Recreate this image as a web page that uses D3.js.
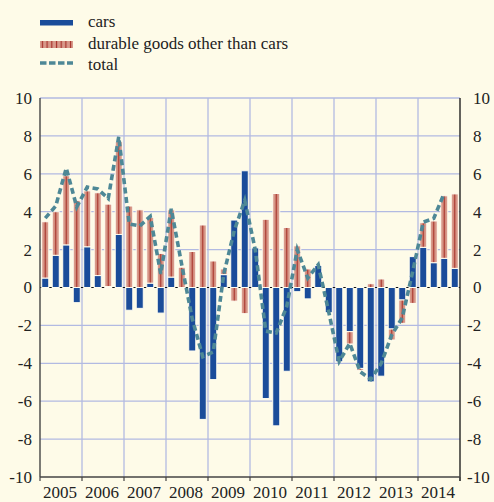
<!DOCTYPE html>
<html>
<head>
<meta charset="utf-8">
<script src="https://cdn.jsdelivr.net/npm/d3@7"></script>
<style>
  body { margin: 0; background: #fefbe8; }
  svg { display: block; }
  svg text { font-family: "Liberation Serif", "DejaVu Serif", "Times New Roman", serif; }
</style>
</head>
<body>
<svg id="chart"></svg>
<script>
var years = ["2005", "2006", "2007", "2008", "2009", "2010", "2011", "2012", "2013", "2014"];

// quarterly contributions, 2005Q1 .. 2014Q4
var cars = [
  0.5, 1.7, 2.25, -0.8,
  2.15, 0.63, 0.05, 2.8,
  -1.2, -1.1, 0.23, -1.35,
  0.55, 0.0, -3.35, -6.96,
  -4.86, 0.68, 3.56, 6.16,
  2.09, -5.86, -7.3, -4.42,
  -0.22, -0.6, 1.16, -1.33,
  -3.92, -2.33, -4.27, -4.98,
  -4.68, -2.19, -0.66, 1.63,
  2.12, 1.31, 1.54, 1.01
];
var otherDurables = [
  2.97, 2.3, 3.65, 4.6,
  2.95, 4.37, 4.35, 4.9,
  4.3, 4.1, 3.47, 1.8,
  3.55, 1.07, 1.9, 3.3,
  1.4, 0.3, -0.72, -1.38,
  0.0, 3.6, 4.96, 3.17,
  2.2, 0.98, 0.0, 0.0,
  0.0, -0.65, -0.1, 0.2,
  0.45, -0.58, -1.23, -0.84,
  1.3, 2.2, 3.3, 3.93
];
// total line stops at 2014Q3
var total = [
  3.66, 4.3, 6.3, 4.25,
  5.3, 5.2, 4.7, 7.95,
  3.35, 3.25, 3.75, 0.72,
  4.15, 1.2, -1.65, -3.65,
  -3.4, 0.7, 3.0, 4.6,
  2.0, -2.3, -2.4, -1.0,
  2.0, 0.5, 1.2, -1.3,
  -3.9, -2.95, -4.45, -4.85,
  -4.0, -2.5, -1.6, 0.85,
  3.45, 3.65, 4.98
];
var yTicks = [-10, -8, -6, -4, -2, 0, 2, 4, 6, 8, 10];

var W = 494, H = 502;
var plot = { left: 40, right: 460, top: 98, bot: 477 };

var blue = "#1a4c9a",
    salmon = "#d8998a",
    stripe = "#a8332b",
    teal = "#4e8896",
    grid = "#b2bae2",
    axisCol = "#444",
    txtCol = "#222",
    serif = "'Liberation Serif', 'DejaVu Serif', 'Times New Roman', serif";

var quarters = [];
years.forEach(function(y) {
  ["Q1", "Q2", "Q3", "Q4"].forEach(function(q) { quarters.push(y + q); });
});

var rows = quarters.map(function(q, i) {
  return { q: q, cars: cars[i], other: otherDurables[i] };
});

var svg = d3.select("#chart").attr("width", W).attr("height", H)
  .attr("font-family", serif);

var defs = svg.append("defs");
var barPat = defs.append("pattern")
  .attr("id", "otherFill")
  .attr("patternUnits", "userSpaceOnUse")
  .attr("x", plot.left).attr("y", 0)
  .attr("width", 10.5).attr("height", 10);
barPat.append("rect").attr("width", 10.5).attr("height", 10).attr("fill", salmon);
barPat.append("rect").attr("x", 4.6).attr("width", 1.3).attr("height", 10).attr("fill", stripe);

var legPat = defs.append("pattern")
  .attr("id", "legFill")
  .attr("patternUnits", "userSpaceOnUse")
  .attr("x", 40).attr("y", 0)
  .attr("width", 4.7).attr("height", 10);
legPat.append("rect").attr("width", 4.7).attr("height", 10).attr("fill", salmon);
legPat.append("rect").attr("x", 1.8).attr("width", 1.2).attr("height", 10).attr("fill", stripe);

// scales
var x = d3.scaleBand().domain(quarters).range([plot.left, plot.right])
  .paddingInner(0.33).paddingOuter(0.165);
var xYear = d3.scaleBand().domain(years).range([plot.left, plot.right]);
var y = d3.scaleLinear().domain([-10, 10]).range([plot.bot, plot.top]);

// grid
var gGrid = svg.append("g");
gGrid.selectAll(".hgrid")
  .data(yTicks.filter(function(d) { return d > -10 && d !== 0; }))
  .enter().append("line")
  .attr("x1", plot.left).attr("x2", plot.right)
  .attr("y1", function(d) { return y(d); }).attr("y2", function(d) { return y(d); })
  .attr("stroke", grid).attr("stroke-width", 1.3);
gGrid.selectAll(".vgrid")
  .data(years.slice(1))
  .enter().append("line")
  .attr("x1", function(d) { return xYear(d); }).attr("x2", function(d) { return xYear(d); })
  .attr("y1", plot.top).attr("y2", plot.bot)
  .attr("stroke", grid).attr("stroke-width", 1.3);

// zero line
svg.append("line")
  .attr("x1", plot.left).attr("x2", plot.right)
  .attr("y1", y(0)).attr("y2", y(0))
  .attr("stroke", "#111").attr("stroke-width", 1.2);

// stacked bars (positives up, negatives down)
var stack = d3.stack().keys(["cars", "other"]).offset(d3.stackOffsetDiverging);
var series = stack(rows);

svg.append("g").selectAll("g")
  .data(series)
  .enter().append("g")
  .attr("fill", function(s) { return s.key === "cars" ? blue : "url(#otherFill)"; })
  .selectAll("rect")
  .data(function(s) { return s.filter(function(d) { return d[1] - d[0] !== 0; }); })
  .enter().append("rect")
  .attr("x", function(d) { return x(d.data.q); })
  .attr("width", x.bandwidth())
  .attr("y", function(d) { return y(Math.max(d[0], d[1])); })
  .attr("height", function(d) { return Math.abs(y(d[0]) - y(d[1])); })
  .attr("stroke", "#fffdf0")
  .attr("stroke-width", 1);

// total line
var line = d3.line()
  .x(function(d, i) { return x(quarters[i]) + x.bandwidth() / 2; })
  .y(function(d) { return y(d); });

svg.append("path")
  .datum(total)
  .attr("d", line)
  .attr("fill", "none")
  .attr("stroke", teal)
  .attr("stroke-width", 3.6)
  .attr("stroke-dasharray", "6,3.5");

// axes frame
svg.append("line")
  .attr("x1", plot.left).attr("x2", plot.left)
  .attr("y1", plot.top).attr("y2", plot.bot)
  .attr("stroke", axisCol).attr("stroke-width", 1.4);
svg.append("line")
  .attr("x1", plot.right).attr("x2", plot.right)
  .attr("y1", plot.top).attr("y2", plot.bot + 4)
  .attr("stroke", "#222").attr("stroke-width", 1.4);
svg.append("line")
  .attr("x1", plot.left).attr("x2", plot.right)
  .attr("y1", plot.bot).attr("y2", plot.bot)
  .attr("stroke", axisCol).attr("stroke-width", 1.4);
svg.append("g").selectAll("line")
  .data(years.concat(["end"]))
  .enter().append("line")
  .attr("x1", function(d, i) { return plot.left + i * xYear.step(); })
  .attr("x2", function(d, i) { return plot.left + i * xYear.step(); })
  .attr("y1", plot.bot).attr("y2", plot.bot + 4)
  .attr("stroke", axisCol).attr("stroke-width", 1.2);

// y labels left and right
svg.append("g").selectAll("text")
  .data(yTicks)
  .enter().append("text")
  .attr("x", 32)
  .attr("y", function(d) { return y(d); })
  .attr("dy", "0.35em")
  .attr("text-anchor", "end")
  .attr("font-family", serif)
  .style("font-size", "17px")
  .attr("fill", txtCol)
  .text(function(d) { return String(d); });

svg.append("g").selectAll("text")
  .data(yTicks)
  .enter().append("text")
  .attr("x", function(d) { return d < 0 ? 467 : 473; })
  .attr("y", function(d) { return y(d); })
  .attr("dy", "0.35em")
  .attr("text-anchor", "start")
  .attr("font-family", serif)
  .style("font-size", "17px")
  .attr("fill", txtCol)
  .text(function(d) { return String(d); });

// year labels
svg.append("g").selectAll("text")
  .data(years)
  .enter().append("text")
  .attr("x", function(d) { return xYear(d) + xYear.bandwidth() / 2 - 1; })
  .attr("y", 498)
  .attr("text-anchor", "middle")
  .attr("font-family", serif)
  .style("font-size", "17px")
  .attr("fill", txtCol)
  .text(function(d) { return d; });

// legend
var leg = svg.append("g");
leg.append("rect").attr("x", 40).attr("y", 20).attr("width", 33).attr("height", 5.5).attr("fill", blue);
leg.append("rect").attr("x", 40).attr("y", 41).attr("width", 33).attr("height", 7).attr("fill", "url(#legFill)");
leg.append("line").attr("x1", 40).attr("x2", 73).attr("y1", 63).attr("y2", 63)
  .attr("stroke", teal).attr("stroke-width", 3.6).attr("stroke-dasharray", "6.5,2.5");

var legendLabels = ["cars", "durable goods other than cars", "total"];
leg.selectAll("text")
  .data(legendLabels)
  .enter().append("text")
  .attr("x", 88)
  .attr("y", function(d, i) { return 27 + i * 21.6; })
  .attr("font-family", serif)
  .style("font-size", "17px")
  .attr("fill", txtCol)
  .text(function(d) { return d; });
</script>
</body>
</html>
